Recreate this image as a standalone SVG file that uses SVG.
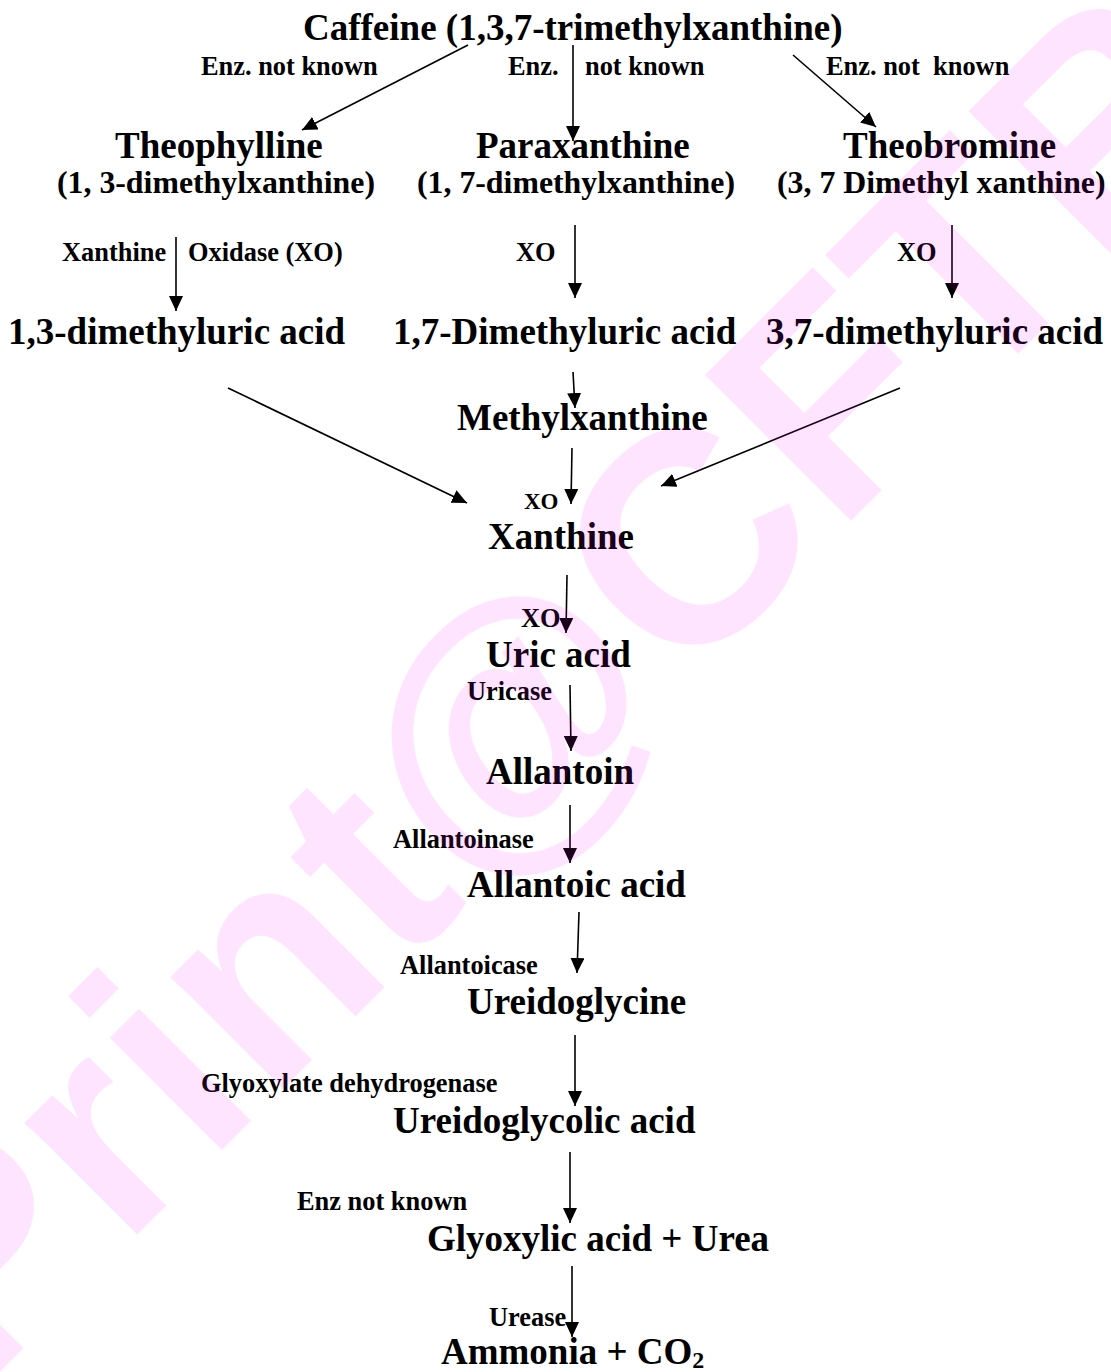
<svg xmlns="http://www.w3.org/2000/svg" width="1111" height="1372" viewBox="0 0 1111 1372">
<style>
text{font-family:"Liberation Serif","Times New Roman",serif;font-weight:bold;fill:#000;white-space:pre}
.big{font-size:37px}
.mid{font-size:31.8px}
.sm{font-size:26.4px}
.xs{font-size:23px}
.wm{font-family:"Liberation Sans",Arial,sans-serif;font-weight:bold;font-size:300px;letter-spacing:3px;fill:#FF00FF;fill-opacity:0.105}
line{stroke:#000;stroke-width:1.6;marker-end:url(#ah)}
</style>
<defs>
<marker id="ah" markerUnits="userSpaceOnUse" markerWidth="16" markerHeight="14" refX="15" refY="7" orient="auto">
<path d="M0,0 L15,7 L0,14 Z" fill="#000"/>
</marker>
</defs>
<rect width="1111" height="1372" fill="#fff"/>
<g id="connectors">
<line x1="468" y1="45" x2="302" y2="130"/>
<line x1="573" y1="45" x2="573" y2="141"/>
<line x1="793" y1="55" x2="876" y2="127"/>
<line x1="176" y1="237" x2="176" y2="311"/>
<line x1="575" y1="225" x2="575" y2="298"/>
<line x1="952" y1="225" x2="952" y2="298"/>
<line x1="573" y1="372" x2="575" y2="408"/>
<line x1="228" y1="388" x2="467" y2="503"/>
<line x1="900" y1="388" x2="661" y2="486"/>
<line x1="572" y1="448" x2="571" y2="504"/>
<line x1="567" y1="575" x2="566" y2="633"/>
<line x1="570" y1="685" x2="571" y2="751"/>
<line x1="570" y1="805" x2="570" y2="863"/>
<line x1="579" y1="912" x2="577" y2="973"/>
<line x1="575" y1="1035" x2="575" y2="1106"/>
<line x1="570" y1="1152" x2="570" y2="1223"/>
<line x1="572" y1="1266" x2="572" y2="1337"/>
</g>
<g id="labels">
<text class="sm" x="201" y="75">Enz. not known</text>
<text class="sm" x="508" y="75">Enz.</text>
<text class="sm" x="585" y="75">not known</text>
<text class="sm" x="826" y="75">Enz. not  known</text>
<text class="sm" x="62" y="261">Xanthine</text>
<text class="sm" x="188" y="261">Oxidase (XO)</text>
<text class="sm" x="516" y="261">XO</text>
<text class="sm" x="897" y="261">XO</text>
<text class="xs" x="524" y="509">XO</text>
<text class="sm" x="521" y="627">XO</text>
<text class="sm" x="467" y="700">Uricase</text>
<text class="sm" x="393" y="848">Allantoinase</text>
<text class="sm" x="400" y="974">Allantoicase</text>
<text class="sm" x="201" y="1092">Glyoxylate dehydrogenase</text>
<text class="sm" x="297" y="1210">Enz not known</text>
<text class="sm" x="489" y="1326">Urease</text>
</g>
<g id="caffeine"><text class="big" x="303" y="40">Caffeine (1,3,7-trimethylxanthine)</text></g>
<g id="theophylline"><text class="big" x="115" y="158">Theophylline</text><text class="mid" x="57" y="193">(1, 3-dimethylxanthine)</text></g>
<g id="paraxanthine"><text class="big" x="476" y="158">Paraxanthine</text><text class="mid" x="417" y="193">(1, 7-dimethylxanthine)</text></g>
<g id="theobromine"><text class="big" x="843" y="158">Theobromine</text><text class="mid" x="777" y="193">(3, 7 Dimethyl xanthine)</text></g>
<g id="dmu13"><text class="big" x="8" y="344">1,3-dimethyluric acid</text></g>
<g id="dmu17"><text class="big" x="393" y="344">1,7-Dimethyluric acid</text></g>
<g id="dmu37"><text class="big" x="766" y="344">3,7-dimethyluric acid</text></g>
<g id="methylxanthine"><text class="big" x="457" y="430">Methylxanthine</text></g>
<g id="xanthine"><text class="big" x="488" y="549">Xanthine</text></g>
<g id="uricacid"><text class="big" x="486" y="667">Uric acid</text></g>
<g id="allantoin"><text class="big" x="486" y="784">Allantoin</text></g>
<g id="allantoicacid"><text class="big" x="467" y="897">Allantoic acid</text></g>
<g id="ureidoglycine"><text class="big" x="467" y="1014">Ureidoglycine</text></g>
<g id="ureidoglycolic"><text class="big" x="393" y="1133">Ureidoglycolic acid</text></g>
<g id="glyoxylic"><text class="big" x="427" y="1251">Glyoxylic acid + Urea</text></g>
<g id="ammonia"><text class="big" x="441" y="1364">Ammonia + CO<tspan font-size="24" dy="4">2</tspan></text></g>
<g id="watermark"><text class="wm" transform="rotate(-45)" x="-1000" y="970">Print@CFTRI</text></g>
</svg>
